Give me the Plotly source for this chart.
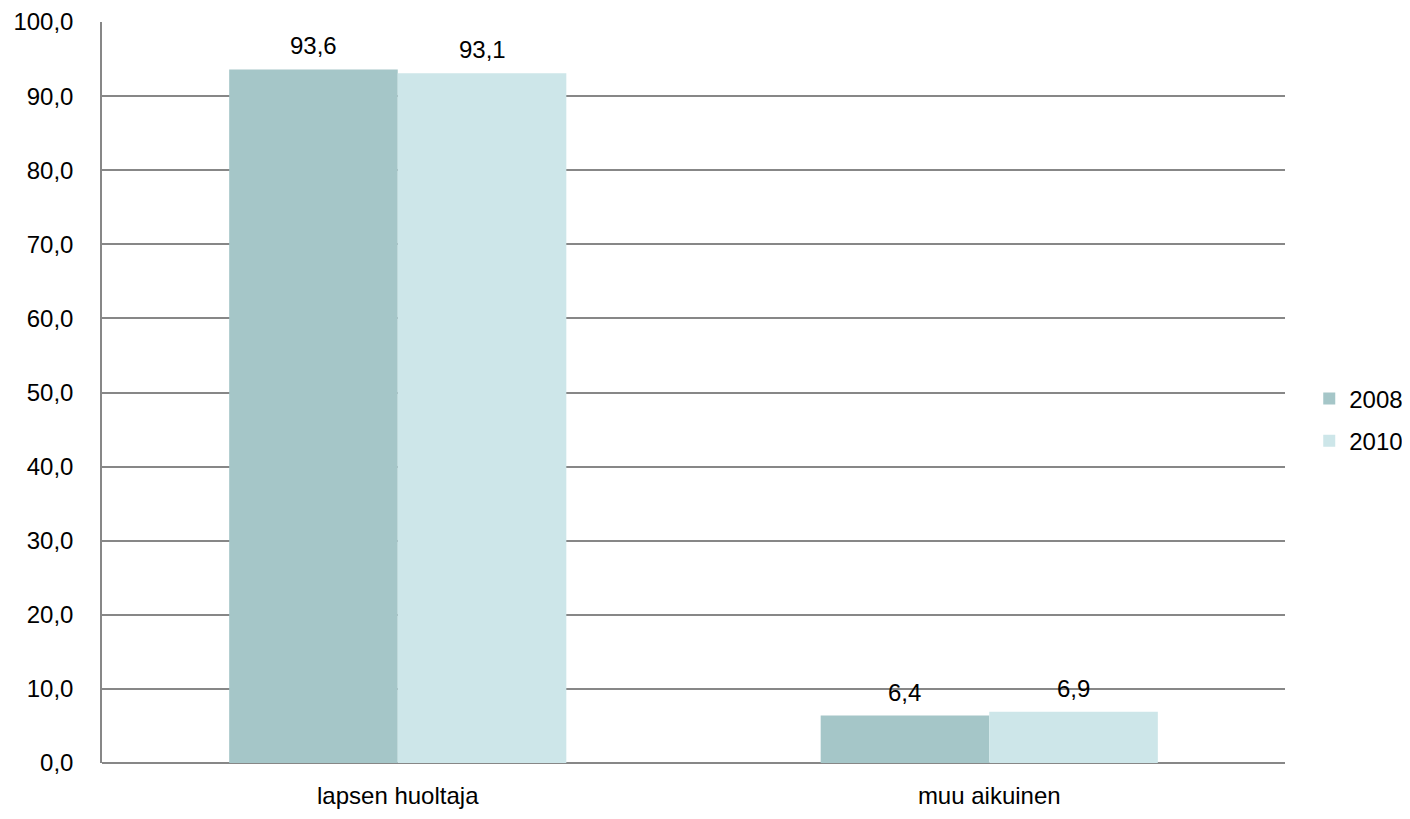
import plotly.graph_objects as go

categories = ["lapsen huoltaja", "muu aikuinen"]
series_names = ["2008", "2010"]
values_2008 = [93.6, 6.4]
values_2010 = [93.1, 6.9]
label_2008 = ["93,6", "6,4"]
label_2010 = ["93,1", "6,9"]
tick_vals = [0, 10, 20, 30, 40, 50, 60, 70, 80, 90, 100]

colors = ["#A5C6C8", "#CDE6E9"]
font_family = "Liberation Sans, Arial, sans-serif"
FS = 24

fig = go.Figure()
for name, vals, col in zip(series_names, [values_2008, values_2010], colors):
    fig.add_trace(go.Bar(
        x=categories, y=vals, name=name, marker=dict(color=col, line=dict(width=0)),
        legendgroup=name,
    ))

# value labels as annotations placed above bars
offsets = [-0.5, 0.5]
for vals, labels, off in zip([values_2008, values_2010], [label_2008, label_2010], offsets):
    for i, (v, lab) in enumerate(zip(vals, labels)):
        fig.add_annotation(
            x=i + off * 0.285, y=v, xref="x", yref="y", text=lab, showarrow=False,
            yanchor="bottom", yshift=8, font=dict(family=font_family, size=FS, color="#000000"),
        )

fig.update_layout(
    width=1402, height=803,
    margin=dict(l=94, r=125, t=14, b=48, autoexpand=False),
    paper_bgcolor="white", plot_bgcolor="white",
    barmode="group", bargap=0.43, bargroupgap=0,
    separators=", ",
    font=dict(family=font_family, size=FS, color="#000000"),
    legend=dict(x=1.0205, y=0.463, xanchor="left", yanchor="middle",
                font=dict(size=FS, family=font_family), traceorder="grouped",
                tracegroupgap=8, itemwidth=30),
    showlegend=True,
)
fig.update_xaxes(
    type="category", showgrid=False, showline=False, ticks="",
    tickfont=dict(size=FS), ticklabelstandoff=16,
)
fig.update_yaxes(
    range=[0, 100], tickvals=tick_vals, tickformat=".1f",
    showgrid=True, gridcolor="#878787", gridwidth=1.5,
    showline=True, linecolor="#878787", linewidth=1.5,
    zeroline=True, zerolinecolor="#878787", zerolinewidth=1.5,
    ticks="", tickfont=dict(size=FS), ticklabelstandoff=22,
)

fig.write_html("out.html")
